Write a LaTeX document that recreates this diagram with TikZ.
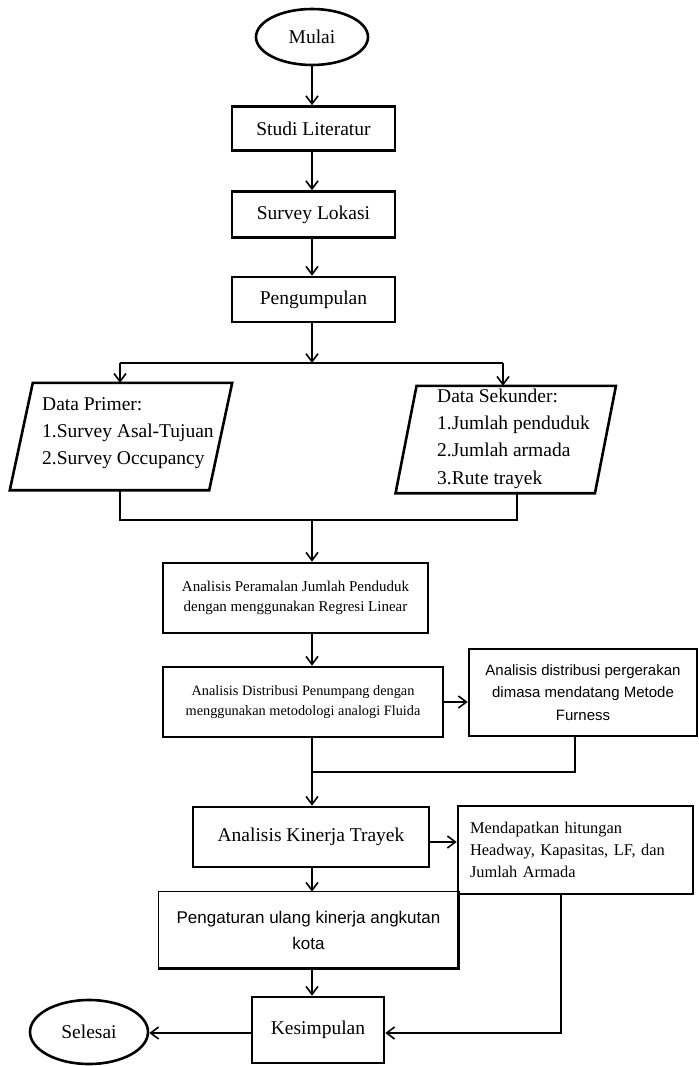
\documentclass[tikz,border=0pt]{standalone}
\usepackage{fontspec}
\setmainfont{Liberation Serif}
\newfontfamily\sansfam{Liberation Sans}
\usetikzlibrary{arrows.meta,shapes.geometric,calc}
\newcommand\fsMain{\fontsize{19.5pt}{27.3pt}\selectfont}
\newcommand\fsSmall{\fontsize{15pt}{20pt}\selectfont}
\newcommand\fsSmaller{\fontsize{14.3pt}{20pt}\selectfont}
\newcommand\fsMid{\fontsize{16.4pt}{22pt}\selectfont}
\newcommand\fsSansS{\sansfam\fontsize{15pt}{22.5pt}\selectfont}
\newcommand\fsSansM{\sansfam\fontsize{17pt}{26pt}\selectfont}
\begin{document}
\begin{tikzpicture}[x=1pt,y=-1pt,
  every node/.style={inner sep=0pt},
  box/.style={draw, line width=2.6pt, rectangle, align=center, font=\fsMain},
  term/.style={draw, ellipse, line width=2.6pt, font=\fsMain},
  frame/.style={line width=2.6pt, line join=miter},
  txt/.style={align=left, font=\fsMain},
  conn/.style={line width=1.6pt},
  arr/.style={conn, -{Straight Barb[length=8pt,width=12pt]}}]
\useasboundingbox (0,0) rectangle (699,1066);
\fill[white] (0,0) rectangle (699,1066);
\coordinate (spine) at (312,0);

% main column
\node[term, minimum width=112pt, minimum height=56pt] (mulai) at (312,37) {Mulai};
\node[box, minimum width=163pt, minimum height=44pt] (studi) at (313.5,128.5) {Studi Literatur};
\node[box, minimum width=163pt, minimum height=46pt] (survey) at (313.5,214.5) {Survey Lokasi};
\node[box, minimum width=163pt, minimum height=45pt] (kumpul) at (313.5,299.5) {Pengumpulan};

\draw[arr] (mulai.south) -- (mulai.south |- studi.north);
\draw[arr] (studi.south -| spine) -- (survey.north -| spine);
\draw[arr] (survey.south -| spine) -- (kumpul.north -| spine);

% data parallelograms
\node[minimum width=199pt, minimum height=107pt] (primer) at (121,436.5) {};
\draw[frame] ([xshift=11.5pt]primer.north west) -- ([xshift=11.5pt]primer.north east)
  -- ([xshift=-11.5pt]primer.south east) -- ([xshift=-11.5pt]primer.south west) -- cycle;
\node[txt, anchor=west] (primertxt) at (42,433) {Data Primer:\\1.Survey Asal-Tujuan\\2.Survey Occupancy};

\node[minimum width=199pt, minimum height=107pt] (sekunder) at (505.75,439.5) {};
\draw[frame] ([xshift=10.5pt]sekunder.north west) -- ([xshift=10.5pt]sekunder.north east)
  -- ([xshift=-10.5pt]sekunder.south east) -- ([xshift=-10.5pt]sekunder.south west) -- cycle;
\node[txt, anchor=west] (sekundertxt) at (437,438.5) {Data Sekunder:\\1.Jumlah penduduk\\2.Jumlah armada\\3.Rute trayek};

\coordinate (split) at (312,363);
\coordinate (splitL) at (120,363);
\coordinate (splitR) at (503,363);
\draw[arr] (kumpul.south -| spine) -- (split);
\draw[conn] (splitL) -- (splitR);
\draw[arr] (splitL) -- (splitL |- primer.north);
\draw[arr] (splitR) -- (splitR |- sekunder.north);

\coordinate (mL) at (120,520);
\coordinate (mR) at (517,520);
\draw[conn] (primer.south -| mL) -- (mL) -- (mR) -- (sekunder.south -| mR);

% analysis boxes
\node[box, font=\fsSmall, minimum width=265pt, minimum height=70pt] (ramal) at (295.5,598)
  {Analisis Peramalan Jumlah Penduduk\\dengan menggunakan Regresi Linear};
\draw[arr] (mL -| spine) -- (ramal.north -| spine);

\node[box, font=\fsSmaller, minimum width=280pt, minimum height=70pt] (distribusi) at (303,702)
  {Analisis Distribusi Penumpang dengan\\menggunakan metodologi analogi Fluida};
\draw[arr] (ramal.south -| spine) -- (distribusi.north -| spine);

\node[box, font=\fsSansS, minimum width=228pt, minimum height=87pt] (furness) at (583,692.5)
  {Analisis distribusi pergerakan\\dimasa mendatang Metode\\Furness};
\draw[arr] (distribusi.east) -- (distribusi.east -| furness.west);

\node[box, minimum width=236pt, minimum height=60pt] (kinerja) at (311,837) {Analisis Kinerja Trayek};
\coordinate (m2) at (312,772);
\draw[conn] (furness.south -| 575,0) |- (m2);
\draw[arr] (distribusi.south -| spine) -- (kinerja.north -| spine);

\node[box, font=\fsMid, align=left, text width=211pt, inner xsep=12pt, minimum height=88pt] (mendapat) at (575.5,850)
  {Mendapatkan hitungan\\Headway, Kapasitas, LF, dan\\Jumlah Armada};
\draw[arr] ([yshift=-5pt]kinerja.east) -- ([yshift=-5pt]kinerja.east -| mendapat.west);

\node[box, draw=none, font=\fsSansM, minimum width=297pt, minimum height=74pt] (atur) at (308.5,930)
  {Pengaturan ulang kinerja angkutan\\kota};
\draw[line width=1.4pt] (atur.south east) -- (atur.south west) -- (atur.north west) -- (atur.north east);
\draw[line width=3pt] ([yshift=1pt]atur.north east) -- (atur.south east) -- ([xshift=-1pt]atur.south west);
\draw[arr] (kinerja.south -| spine) -- (atur.north -| spine);

\node[box, minimum width=132pt, minimum height=66pt] (simpul) at (318,1030) {Kesimpulan};
\draw[arr] (atur.south -| spine) -- (simpul.north -| spine);

\node[term, minimum width=118pt, minimum height=64pt] (selesai) at (89,1032) {Selesai};
\draw[arr] ([yshift=-3pt]simpul.west) -- ([yshift=-3pt]simpul.west -| selesai.east);

\coordinate (mbot) at (561,1033);
\draw[arr] (mendapat.south -| mbot) -- (mbot) -- (mbot -| simpul.east);
\end{tikzpicture}
\end{document}
